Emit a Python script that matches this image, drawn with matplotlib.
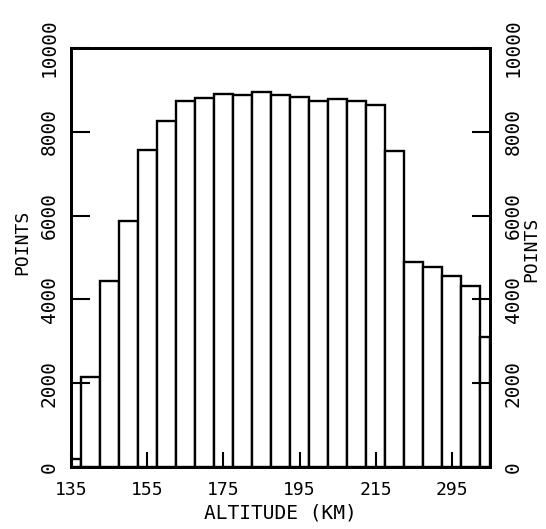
import numpy as np
import matplotlib
matplotlib.use("Agg")
import matplotlib.pyplot as plt

# bin edges in km (first and last bins are cut by the plot limits)
alt_edges = [135, 137.5, 142.5, 147.5, 152.5, 157.5, 162.5, 167.5, 172.5,
             177.5, 182.5, 187.5, 192.5, 197.5, 202.5, 207.5, 212.5, 217.5,
             222.5, 227.5, 232.5, 237.5, 242.5, 245]
# number of points in each bin
points = [200, 2150, 4450, 5870, 7570, 8260, 8730, 8810, 8900, 8870, 8940,
          8890, 8840, 8730, 8780, 8730, 8640, 7530, 4890, 4770, 4570, 4330,
          3100]

x_ticks = [135, 155, 175, 195, 215, 235]
x_labels = ["135", "155", "175", "195", "215", "295"]
y_ticks = [0, 2000, 4000, 6000, 8000, 10000]
y_labels = ["0", "2000", "4000", "6000", "8000", "10000"]

plt.rcParams['font.family'] = ['DejaVu Sans Mono']

fig = plt.figure(figsize=(5.46, 5.29), dpi=100)
ax = fig.add_axes([71 / 546, 1 - 467 / 529, 419 / 546, 419 / 529])

edges = np.array(alt_edges)
ax.bar(edges[:-1], points, width=np.diff(edges), align='edge',
       color='white', edgecolor='black', linewidth=1.7)

ax.set_xlim(135, 245)
ax.set_ylim(0, 10000)
for s in ax.spines.values():
    s.set_linewidth(2)

ax.set_xticks(x_ticks, x_labels, fontsize=13)
ax.tick_params(axis='x', direction='in', length=11, width=1.5, pad=10)
ax.set_xlabel("ALTITUDE (KM)", fontsize=14, labelpad=3)

ax.set_yticks(y_ticks, y_labels, fontsize=14, rotation=90, va='center')
ax.tick_params(axis='y', direction='in', length=14, width=1.5, pad=9)

ax2 = ax.twinx()
ax2.set_ylim(0, 10000)
ax2.set_yticks(y_ticks, y_labels, fontsize=14, rotation=90, va='center')
ax2.tick_params(axis='y', direction='in', length=13, width=1.5, pad=10)
for s in ax2.spines.values():
    s.set_linewidth(2)

# axis titles on both sides
ax.text(-0.116, 0.535, "POINTS", transform=ax.transAxes, rotation=90,
        ha='center', va='center', fontsize=13)
ax.text(1.098, 0.52, "POINTS", transform=ax.transAxes, rotation=90,
        ha='center', va='center', fontsize=13)

fig.savefig("out.png", dpi=100)
